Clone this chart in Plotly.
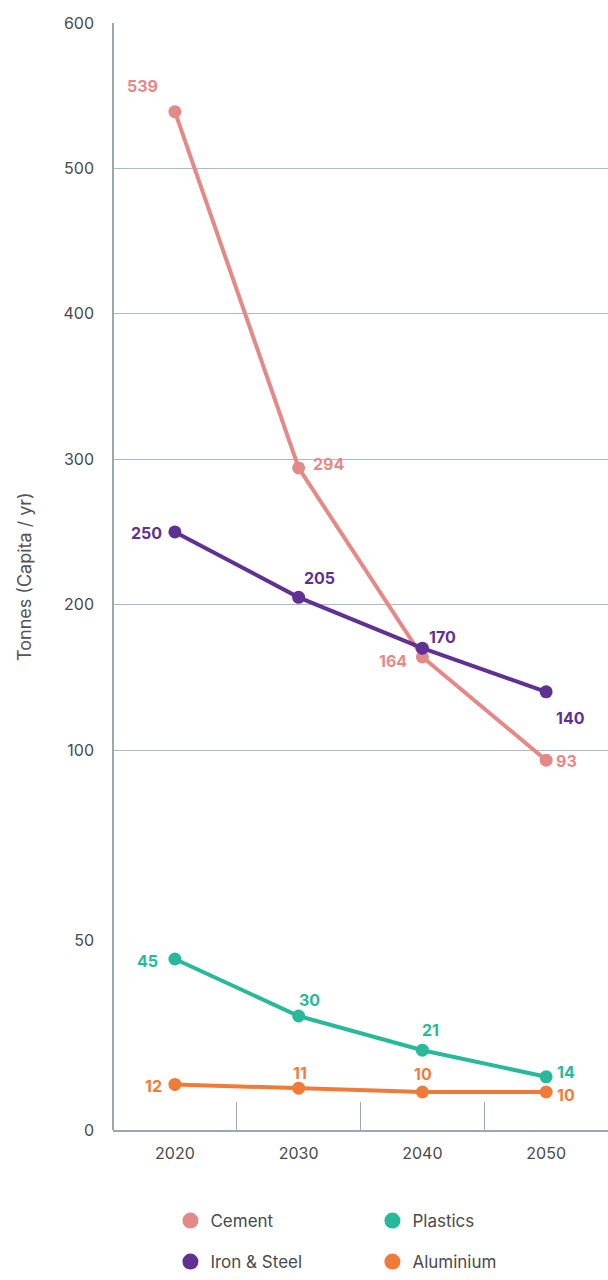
import plotly.graph_objects as go

years = ["2020", "2030", "2040", "2050"]
cement = [539, 294, 164, 93]
iron_steel = [250, 205, 170, 140]
plastics = [45, 30, 21, 14]
aluminium = [12, 11, 10, 10]

top_ticks = [100, 200, 300, 400, 500, 600]
bottom_ticks = [0, 50]

colors = {
    "Cement": "#E38A88",
    "Iron & Steel": "#5E3192",
    "Plastics": "#27B99A",
    "Aluminium": "#F07B38",
}

# label offsets (pixels) per point: (xshift, yshift)
offsets = {
    "Cement": [(-32, 26), (30, 4), (-29, -4), (20, -1)],
    "Iron & Steel": [(-28, -1), (21, 19), (20, 11), (24, -26)],
    "Plastics": [(-27, -2), (11, 16), (8, 20), (20, 5)],
    "Aluminium": [(-21, -2), (1, 15), (1, 18), (20, -3)],
}

series = [
    ("Cement", cement, "y2"),
    ("Iron & Steel", iron_steel, "y2"),
    ("Plastics", plastics, "y"),
    ("Aluminium", aluminium, "y"),
]

FONT = "Inter"
TXT = "#4A4A4A"
fig = go.Figure()
annotations = []
for name, vals, yax in series:
    fig.add_trace(go.Scatter(
        x=years, y=vals, yaxis=yax, mode="lines+markers", name=name,
        line=dict(color=colors[name], width=4),
        marker=dict(color=colors[name], size=13),
        showlegend=False, hoverinfo="skip",
    ))
    for i, (yv, (dx, dy)) in enumerate(zip(vals, offsets[name])):
        annotations.append(dict(
            x=i, y=yv, xref="x", yref=yax, text=f"<b>{yv}</b>", showarrow=False,
            xshift=dx, yshift=dy, font=dict(family=FONT, size=16, color=colors[name]),
        ))

# legend-only entries
for name, leg in [("Cement", "legend"), ("Plastics", "legend"),
                  ("Iron & Steel", "legend2"), ("Aluminium", "legend2")]:
    fig.add_trace(go.Scatter(
        x=[None], y=[None], mode="markers", name=name, legend=leg,
        marker=dict(color=colors[name], size=18), showlegend=True,
    ))

annotations.append(dict(
    x=0, y=0.5, xref="paper", yref="paper", xshift=-101, textangle=-90,
    text="Tonnes (Capita / yr)", showarrow=False,
    font=dict(family=FONT, size=18, color="#555555"),
))

grid_c = "#AEB8C1"
axis_c = "#9AA8B3"
plot_h = 1280 - 23 - 150
top_lo = 80
top_px = (600 - top_lo) * 727.0 / 500
bottom_dom = 190 / plot_h

fig.update_layout(
    width=608, height=1280,
    margin=dict(l=113, r=0, t=23, b=150),
    paper_bgcolor="white", plot_bgcolor="white",
    font=dict(family=FONT, size=16, color=TXT),
    xaxis=dict(
        type="category", range=[-0.5, 3.5], tickson="boundaries",
        ticks="inside", ticklen=28, tickcolor=axis_c, tickwidth=1,
        showline=True, linecolor=axis_c, linewidth=2, showgrid=False,
        tickfont=dict(family=FONT, size=16, color=TXT), ticklabelstandoff=8,
        anchor="y",
    ),
    yaxis=dict(
        domain=[0, bottom_dom], range=[0, 50], tickvals=bottom_ticks,
        showgrid=True, gridcolor=grid_c, gridwidth=1, zeroline=False,
        showline=False, ticks="", ticklabelstandoff=18,
        tickfont=dict(family=FONT, size=16, color=TXT),
    ),
    yaxis2=dict(
        domain=[1 - top_px / plot_h, 1], range=[top_lo, 600], tickvals=top_ticks,
        showgrid=True, gridcolor=grid_c, gridwidth=1, zeroline=False,
        showline=False, ticks="", ticklabelstandoff=18, anchor="x",
        tickfont=dict(family=FONT, size=16, color=TXT),
    ),
    shapes=[dict(type="line", xref="paper", yref="paper", x0=0, x1=0, y0=0, y1=1,
                 line=dict(color=axis_c, width=2))],
    annotations=annotations,
    legend=dict(
        orientation="h", x=0.116, y=(1130 - 1221) / plot_h, yanchor="middle", xanchor="left",
        entrywidth=157, entrywidthmode="pixels",
        font=dict(family=FONT, size=17, color=TXT), bgcolor="rgba(0,0,0,0)",
    ),
    legend2=dict(
        orientation="h", x=0.116, y=(1130 - 1280) / plot_h, yanchor="bottom", xanchor="left",
        entrywidth=157, entrywidthmode="pixels",
        font=dict(family=FONT, size=17, color=TXT), bgcolor="rgba(0,0,0,0)",
    ),
)

fig.write_html(
    "out.html", config={"displayModeBar": False},
    post_script=("var b=document.body;b.style.margin='0';b.style.fontSize='0';"
                 "b.style.lineHeight='0';b.style.overflow='hidden';"
                 "document.documentElement.style.overflow='hidden';"),
)
